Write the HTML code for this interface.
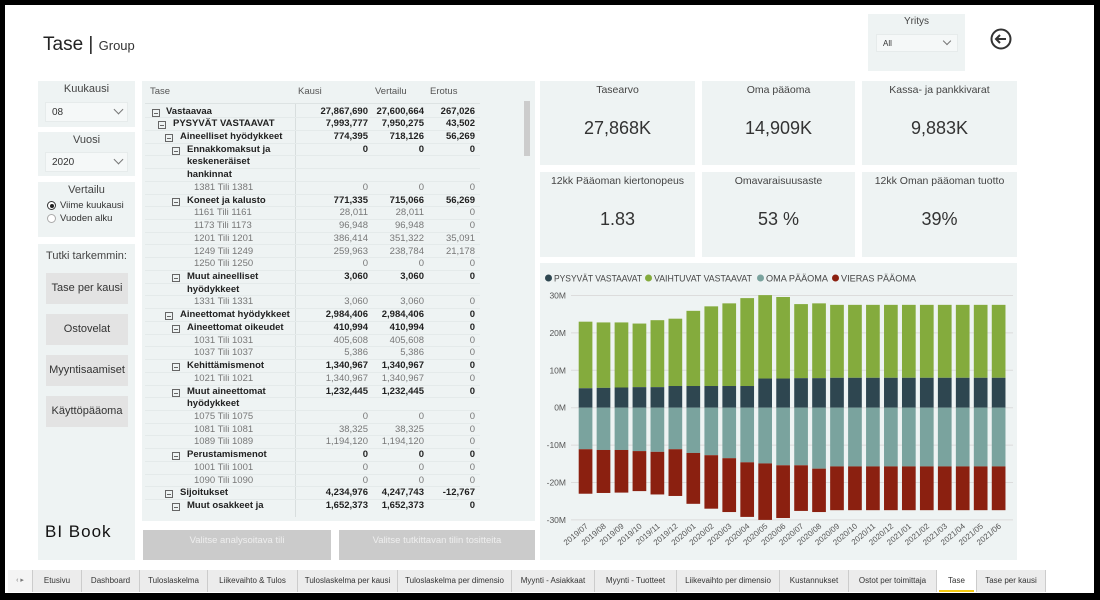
<!DOCTYPE html>
<html><head><meta charset="utf-8"><style>
*{margin:0;padding:0;box-sizing:border-box}
body{width:1100px;height:600px;background:#000;position:relative;overflow:hidden;font-family:"Liberation Sans","DejaVu Sans",sans-serif;color:#333}
.pg{position:absolute;left:5px;top:5px;width:1089px;height:588px;background:#fff}
.a{position:absolute}
.p{position:absolute;background:#eef3f3}
.ttl{font-size:11px;color:#444;text-align:center;width:100%}
.dd{position:absolute;background:#f5f8f8;border:1px solid #e6ebeb;font-size:10px;color:#333;padding-left:6px}
.chev{position:absolute;width:7px;height:7px;border-right:1px solid #777;border-bottom:1px solid #777;transform:rotate(45deg)}
.btn{position:absolute;left:46px;width:82px;height:31px;background:#e3e3e3;font-size:11px;color:#333;text-align:center;line-height:31px}
.card .t{font-size:10.5px;color:#444;text-align:center;margin-top:3px}
.card .v{font-size:18px;color:#333;text-align:center;margin-top:22px}
.row{position:absolute;left:145px;width:335px;height:12.7px;font-size:9.5px;line-height:12.7px;border-bottom:1px solid #e4eaea}
.row span{position:absolute}
.n{text-align:right}
.bx{position:absolute;width:8px;height:8px;border:1px solid #666;top:3px}
.bx:after{content:"";position:absolute;left:1px;right:1px;top:3px;height:1px;background:#666}
.tab{position:absolute;top:570px;height:22px;background:#ececec;border-right:1px solid #ccc;font-size:8px;color:#333;text-align:center;line-height:22px}
</style></head><body>
<div class="pg"></div>
<div class="a" style="left:43px;top:34px;font-size:19px;color:#222">Tase <span style="font-weight:300">|</span> <span style="font-size:13px;color:#333">Group</span></div>

<div class="p" style="left:868px;top:14px;width:97px;height:57px"><div class="ttl" style="font-size:10px;margin-top:2px">Yritys</div>
<div class="dd" style="left:8px;top:20px;width:82px;height:18px;line-height:18px;font-size:8px">All</div></div>
<div class="chev" style="left:944px;top:38px;width:6px;height:6px"></div>
<svg class="a" style="left:989px;top:27px" width="24" height="24"><circle cx="12" cy="12" r="9.5" fill="none" stroke="#333" stroke-width="2"/><path d="M17 12H7M11 8l-4 4 4 4" fill="none" stroke="#333" stroke-width="2"/></svg>

<div class="p" style="left:38px;top:81px;width:97px;height:46px"><div class="ttl" style="margin-top:2px">Kuukausi</div></div>
<div class="dd" style="left:45px;top:102px;width:83px;height:20px;line-height:20px">08</div><div class="chev" style="left:115px;top:106px"></div>
<div class="p" style="left:38px;top:132px;width:97px;height:44px"><div class="ttl" style="margin-top:2px">Vuosi</div></div>
<div class="dd" style="left:45px;top:152px;width:83px;height:20px;line-height:20px">2020</div><div class="chev" style="left:115px;top:156px"></div>
<div class="p" style="left:38px;top:182px;width:97px;height:55px"><div class="ttl" style="margin-top:2px">Vertailu</div>
<div class="a" style="left:9px;top:19px;width:9px;height:9px;border-radius:50%;border:1px solid #333;background:#fff"><div style="margin:1.5px;width:4px;height:4px;border-radius:50%;background:#222"></div></div>
<div class="a" style="left:22px;top:18px;font-size:9.5px">Viime kuukausi</div>
<div class="a" style="left:9px;top:32px;width:9px;height:9px;border-radius:50%;border:1px solid #aaa;background:#fff"></div>
<div class="a" style="left:22px;top:31px;font-size:9.5px">Vuoden alku</div></div>
<div class="p" style="left:38px;top:244px;width:97px;height:316px"><div class="ttl" style="margin-top:6px">Tutki tarkemmin:</div>
<div class="a" style="left:7px;top:278px;font-size:17px;color:#111;letter-spacing:1px">BI Book</div></div>
<div class="btn" style="top:273px">Tase per kausi</div>
<div class="btn" style="top:314px">Ostovelat</div>
<div class="btn" style="top:355px">Myyntisaamiset</div>
<div class="btn" style="top:396px">Käyttöpääoma</div>

<div class="p" style="left:142px;top:81px;width:393px;height:440px"></div>
<div class="a" style="left:150px;top:86px;font-size:9.5px;color:#555">Tase</div>
<div class="a" style="left:298px;top:86px;font-size:9.5px;color:#555">Kausi</div>
<div class="a" style="left:375px;top:86px;font-size:9.5px;color:#555">Vertailu</div>
<div class="a" style="left:430px;top:86px;font-size:9.5px;color:#555">Erotus</div>
<div class="a" style="left:145px;top:103px;width:335px;height:1px;background:#dde3e3"></div>
<div class="a" style="left:295px;top:104px;width:1px;height:413px;background:#d8dede"></div>
<div class="a" style="left:524px;top:101px;width:6px;height:55px;background:#ccc"></div>
<div id="tbl"></div>
<div class="a" style="left:143px;top:530px;width:188px;height:30px;background:#cbcbcb;font-size:9.5px;color:#eee;text-align:center;line-height:22px">Valitse analysoitava tili</div>
<div class="a" style="left:339px;top:530px;width:196px;height:30px;background:#cbcbcb;font-size:9.5px;color:#eee;text-align:center;line-height:22px">Valitse tutkittavan tilin tositteita</div>

<div class="p card" style="left:540px;top:81px;width:155px;height:84px"><div class="t">Tasearvo</div><div class="v">27,868K</div></div>
<div class="p card" style="left:702px;top:81px;width:153px;height:84px"><div class="t">Oma pääoma</div><div class="v">14,909K</div></div>
<div class="p card" style="left:862px;top:81px;width:155px;height:84px"><div class="t">Kassa- ja pankkivarat</div><div class="v">9,883K</div></div>
<div class="p card" style="left:540px;top:172px;width:155px;height:85px"><div class="t">12kk Pääoman kiertonopeus</div><div class="v">1.83</div></div>
<div class="p card" style="left:702px;top:172px;width:153px;height:85px"><div class="t">Omavaraisuusaste</div><div class="v">53 %</div></div>
<div class="p card" style="left:862px;top:172px;width:155px;height:85px"><div class="t">12kk Oman pääoman tuotto</div><div class="v">39%</div></div>

<div class="p" style="left:540px;top:263px;width:477px;height:297px"></div>
<svg class="a" style="left:0;top:0" width="1100" height="600" id="ch"></svg>

<div class="tab" style="left:8px;width:25px;background:#f4f4f4;font-size:7px;color:#777">‹ ▸</div>
<div id="tabs"></div>
<script>
var R=[
[0,'Vastaavaa','27,867,690','27,600,664','267,026',1],
[1,'PYSYVÄT VASTAAVAT','7,993,777','7,950,275','43,502',1],
[2,'Aineelliset hyödykkeet','774,395','718,126','56,269',1],
[3,'Ennakkomaksut ja','0','0','0',1],[3,'keskeneräiset','','','',2],[3,'hankinnat','','','',2],
[4,'1381 Tili 1381','0','0','0',0],
[3,'Koneet ja kalusto','771,335','715,066','56,269',1],
[4,'1161 Tili 1161','28,011','28,011','0',0],[4,'1173 Tili 1173','96,948','96,948','0',0],
[4,'1201 Tili 1201','386,414','351,322','35,091',0],[4,'1249 Tili 1249','259,963','238,784','21,178',0],
[4,'1250 Tili 1250','0','0','0',0],
[3,'Muut aineelliset','3,060','3,060','0',1],[3,'hyödykkeet','','','',2],
[4,'1331 Tili 1331','3,060','3,060','0',0],
[2,'Aineettomat hyödykkeet','2,984,406','2,984,406','0',1],
[3,'Aineettomat oikeudet','410,994','410,994','0',1],
[4,'1031 Tili 1031','405,608','405,608','0',0],[4,'1037 Tili 1037','5,386','5,386','0',0],
[3,'Kehittämismenot','1,340,967','1,340,967','0',1],
[4,'1021 Tili 1021','1,340,967','1,340,967','0',0],
[3,'Muut aineettomat','1,232,445','1,232,445','0',1],[3,'hyödykkeet','','','',2],
[4,'1075 Tili 1075','0','0','0',0],[4,'1081 Tili 1081','38,325','38,325','0',0],[4,'1089 Tili 1089','1,194,120','1,194,120','0',0],
[3,'Perustamismenot','0','0','0',1],
[4,'1001 Tili 1001','0','0','0',0],[4,'1090 Tili 1090','0','0','0',0],
[2,'Sijoitukset','4,234,976','4,247,743','-12,767',1],
[3,'Muut osakkeet ja','1,652,373','1,652,373','0',1]];
var bxX=[152,158,165,172],txX=[166,173,180,187];
var h='';
R.forEach(function(r,i){
 var y=105.5+i*12.73, b=r[5]; var col=b?'#222':'#777'; var fw=b?'bold':'normal';
 h+='<div class="row" style="top:'+y+'px;'+(i==R.length-1?'border:none;':'')+'">';
 if(b==1) h+='<div class="bx" style="left:'+(bxX[r[0]]-145)+'px"></div>';
 var tx=r[0]==4?194:txX[r[0]];
 h+='<span style="left:'+(tx-145)+'px;color:'+col+';font-weight:'+fw+'">'+r[1]+'</span>';
 [[368,2],[424,3],[475,4]].forEach(function(c){h+='<span class="n" style="right:'+(480-c[0])+'px;color:'+col+';font-weight:'+fw+'">'+r[c[1]]+'</span>';});
 h+='</div>';});
document.getElementById('tbl').innerHTML=h;
var D=[[23.0,5.2,-11.1,-23.0],[22.8,5.3,-11.3,-22.8],[22.8,5.4,-11.3,-22.7],[22.5,5.5,-11.6,-22.3],[23.4,5.5,-11.8,-23.2],[23.8,5.8,-11.1,-23.6],[25.9,5.8,-12.1,-25.7],[27.1,5.8,-12.7,-27.0],[27.9,5.8,-13.5,-27.9],[29.3,5.8,-14.6,-29.2],[30.1,7.8,-14.9,-30.0],[29.6,7.8,-15.4,-29.5],[27.7,7.9,-15.4,-27.6],[27.9,7.9,-16.3,-27.9]];
for(var i=0;i<10;i++)D.push([27.5,8.0,-15.7,-27.4]);
var L=[];for(var y=2019,m=7;L.length<24;){L.push(y+'/'+(m<10?'0':'')+m);m++;if(m>12){m=1;y++;}}
var Y0=407.7,k=3.74,s='';
[30,20,10,0,-10,-20,-30].forEach(function(v){var y=Y0-v*k;s+='<line x1="571" x2="1013" y1="'+y+'" y2="'+y+'" stroke="#dcdcdc" stroke-width="1"/><text x="566" y="'+(y+3)+'" font-size="8.5" fill="#555" text-anchor="end">'+v+'M</text>';});
D.forEach(function(d,i){var x=578.7+i*17.96,w=13.7;
 s+='<rect x="'+x+'" y="'+(Y0-d[0]*k)+'" width="'+w+'" height="'+((d[0]-d[1])*k)+'" fill="#84ab3d"/>';
 s+='<rect x="'+x+'" y="'+(Y0-d[1]*k)+'" width="'+w+'" height="'+(d[1]*k)+'" fill="#2e4650"/>';
 s+='<rect x="'+x+'" y="'+Y0+'" width="'+w+'" height="'+(-d[2]*k)+'" fill="#7aa39e"/>';
 s+='<rect x="'+x+'" y="'+(Y0-d[2]*k)+'" width="'+w+'" height="'+((d[2]-d[3])*k)+'" fill="#8b2010"/>';
 var cx=x+w/2+3,cy=527;
 s+='<text x="'+cx+'" y="'+cy+'" font-size="8" fill="#555" text-anchor="end" transform="rotate(-40 '+cx+' '+cy+')">'+L[i]+'</text>';});
var lg=[['PYSYVÄT VASTAAVAT','#2e4650',545,88],['VAIHTUVAT VASTAAVAT','#84ab3d',645,98],['OMA PÄÄOMA','#7aa39e',757,62],['VIERAS PÄÄOMA','#8b2010',832,75]];
lg.forEach(function(l){s+='<circle cx="'+(l[2]+3.5)+'" cy="278" r="3.5" fill="'+l[1]+'"/><text x="'+(l[2]+9)+'" y="281.5" font-size="9.5" fill="#444" textLength="'+l[3]+'" lengthAdjust="spacingAndGlyphs">'+l[0]+'</text>';});
document.getElementById('ch').innerHTML=s;
var T=[['Etusivu',33,82],['Dashboard',82,140],['Tuloslaskelma',140,208],['Liikevaihto &amp; Tulos',208,298],['Tuloslaskelma per kausi',298,398],['Tuloslaskelma per dimensio',398,512],['Myynti - Asiakkaat',512,595],['Myynti - Tuotteet',595,677],['Liikevaihto per dimensio',677,780],['Kustannukset',780,849],['Ostot per toimittaja',849,937],['Tase',937,977],['Tase per kausi',977,1046]];
var t='';T.forEach(function(a){t+='<div class="tab" style="left:'+a[1]+'px;width:'+(a[2]-a[1])+'px;'+(a[0]=='Tase'?'background:#fff;':'')+'">'+a[0]+(a[0]=='Tase'?'<div style="position:absolute;left:2px;right:2px;bottom:0;height:2px;background:#f2c811"></div>':'')+'</div>';});
document.getElementById('tabs').innerHTML=t;
</script>
</body></html>
